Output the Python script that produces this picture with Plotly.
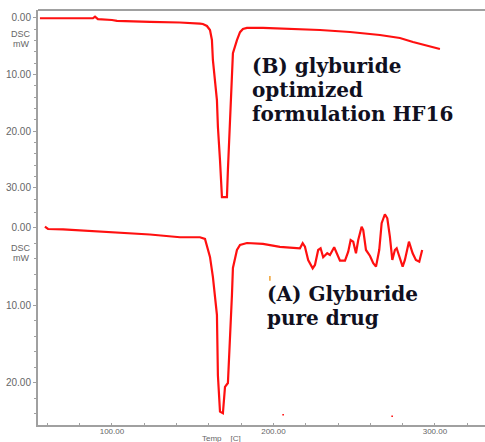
import plotly.graph_objects as go

# (B) glyburide optimized formulation HF16 (top panel)
temp_b = [55.4, 88.2, 89.5, 91.3, 100.0, 103.1, 123.5, 142.0, 154.5, 156.3, 158.8, 160.7, 161.9,
          162.5, 165.0, 165.6, 166.9, 168.1, 170.0, 171.2, 171.8, 173.1, 174.3, 174.9, 177.4,
          179.3, 181.1, 183.6, 193.5, 216.4, 228.8, 247.4, 265.9, 278.3, 286.4, 303.1]
dsc_b = [0.05, 0.05, -0.25, 0.2, 0.35, 0.5, 0.7, 0.8, 1.0, 1.06, 1.41, 2.12, 3.88,
         7.41, 14.5, 19.2, 25.1, 31.6, 31.6, 31.6, 26.8, 19.2, 10.9, 6.2, 3.9,
         2.5, 1.94, 1.76, 1.76, 1.94, 2.12, 2.47, 3.0, 3.53, 4.24, 5.47]

# (A) Glyburide pure drug (bottom panel)
temp_a = [58.5, 60.4, 69.7, 85.1, 100.6, 123.5, 142.1, 154.5, 157.6, 160.7, 162.5, 165.0, 165.6,
          166.9, 168.7, 170.0, 171.8, 173.1, 174.3, 174.9, 177.4, 179.3, 183.6, 193.5, 204.0,
          210.2, 216.4, 218.1, 219.5, 221.5, 224.3, 225.7, 227.7, 229.2, 230.8, 233.3, 235.0,
          237.6, 239.1, 241.2, 244.3, 246.3, 247.8, 249.4, 251.1, 252.5, 254.6, 255.6, 257.3,
          259.8, 261.8, 263.5, 265.5, 267.0, 269.0, 270.5, 272.1, 273.6, 275.2, 276.3, 277.3,
          280.0, 281.4, 283.9, 286.2, 288.2, 290.3, 292.1]
dsc_a = [-0.17, 0.13, 0.19, 0.39, 0.58, 0.84, 1.2, 1.2, 1.42, 3.74, 6.32, 11.2, 19.0,
         23.7, 23.9, 20.5, 20.0, 14.8, 8.65, 5.16, 2.84, 2.19, 1.94, 2.06, 2.45,
         2.54, 2.62, 1.97, 2.41, 4.13, 5.2, 4.77, 2.84, 2.62, 3.78, 3.26, 3.48,
         2.49, 3.26, 4.22, 4.22, 3.06, 1.55, 1.77, 3.26, 1.55, -0.17, 0.26, 2.84,
         3.61, 4.55, 4.99, 2.84, -0.61, -1.77, -1.25, 1.12, 4.13, 2.84, 2.62, 3.26,
         4.99, 4.13, 1.77, 3.26, 4.13, 4.35, 2.84]

# small artefact marks in the bottom panel
mark1_t = [197.8, 197.8]
mark1_v = [6.2, 6.8]
mark2_t = [205.5, 206.5]
mark2_v = [24.1, 24.1]
mark3_t = [273.0, 274.0]
mark3_v = [24.3, 24.3]

top_ticks = [0, 10, 20, 30]
bot_ticks = [0, 10, 20]
x_ticks = [100, 200, 300]
x_labels = ["100.00", "200.00", "300.00"]

RED = "#ff1010"
AXC = "#a0a0a0"
TICKC = "#666666"

fig = go.Figure()
fig.add_trace(go.Scatter(x=temp_b, y=dsc_b, mode="lines", xaxis="x", yaxis="y",
                         line=dict(color=RED, width=2.2), showlegend=False))
fig.add_trace(go.Scatter(x=temp_a, y=dsc_a, mode="lines", xaxis="x", yaxis="y2",
                         line=dict(color=RED, width=2.2), showlegend=False))
fig.add_trace(go.Scatter(x=mark1_t, y=mark1_v, mode="lines", xaxis="x", yaxis="y2",
                         line=dict(color="#f0a030", width=1.5), showlegend=False))
fig.add_trace(go.Scatter(x=mark2_t, y=mark2_v, mode="lines", xaxis="x", yaxis="y2",
                         line=dict(color=RED, width=1.5), showlegend=False))
fig.add_trace(go.Scatter(x=mark3_t, y=mark3_v, mode="lines", xaxis="x", yaxis="y2",
                         line=dict(color=RED, width=1.5), showlegend=False))

split = 0.5422
yfont = dict(family="Liberation Sans, Arial", size=10, color=TICKC)

fig.update_layout(
    width=485, height=442,
    margin=dict(l=38, r=0, t=10, b=17),
    paper_bgcolor="white", plot_bgcolor="white",
    xaxis=dict(anchor="y2", range=[54.2, 331], showgrid=False, zeroline=False,
               showline=True, linecolor=AXC, linewidth=2,
               tickvals=x_ticks, ticktext=x_labels, ticks="",
               tickfont=dict(family="Liberation Sans, Arial", size=8, color=TICKC),
               ticklabelstandoff=-3,
               minor=dict(dtick=20, tick0=0, ticks="inside", ticklen=2, tickcolor=AXC)),
    yaxis=dict(domain=[split, 1], anchor="x", range=[32.12, -1.41], showgrid=False,
               zeroline=False, showline=True, linecolor=AXC, linewidth=2,
               tickvals=top_ticks, ticktext=["0.00", "10.00", "20.00", "30.00"],
               ticks="outside", ticklen=3, tickcolor=AXC, tickfont=yfont,
               minor=dict(dtick=2, tick0=0, ticks="outside", ticklen=2, tickcolor=AXC)),
    yaxis2=dict(domain=[0, split], anchor="x", range=[25.42, -3.61], showgrid=False,
                zeroline=False, showline=True, linecolor=AXC, linewidth=2,
                tickvals=bot_ticks, ticktext=["0.00", "10.00", "20.00"],
                ticks="outside", ticklen=3, tickcolor=AXC, tickfont=yfont,
                minor=dict(dtick=2, tick0=0, ticks="outside", ticklen=2, tickcolor=AXC)),
)

# top border
fig.add_shape(type="line", xref="paper", yref="paper", x0=0, x1=1, y0=1, y1=1,
              line=dict(color=AXC, width=2))


def px_x(px):
    return (px - 38) / 447.0


def px_y(py):
    return (425 - py) / 415.0


small = dict(family="Liberation Sans, Arial", size=9, color=TICKC)
for txt, py in [("DSC", 34), ("mW", 44), ("DSC", 248), ("mW", 258)]:
    fig.add_annotation(text=txt, xref="paper", yref="paper", x=px_x(21), y=px_y(py),
                       xanchor="center", yanchor="middle", showarrow=False, font=small)

fig.add_annotation(text="Temp    [C]", xref="paper", yref="paper", x=px_x(221), y=px_y(438),
                   xanchor="center", yanchor="middle", showarrow=False,
                   font=dict(family="Liberation Sans, Arial", size=8, color=TICKC))

big = dict(family="DejaVu Serif", size=20, color="#101020")
for txt, px, py in [("<b>(B) glyburide</b>", 250, 66), ("<b>optimized</b>", 250, 90),
                    ("<b>formulation HF16</b>", 250, 114),
                    ("<b>(A) Glyburide</b>", 265, 294), ("<b>pure drug</b>", 265, 318)]:
    fig.add_annotation(text=txt, xref="paper", yref="paper", x=px_x(px), y=px_y(py),
                       xanchor="left", yanchor="middle", showarrow=False, font=big)

fig.write_html("out.html", config={"displayModeBar": False},
               post_script="document.body.style.margin='0px';")
